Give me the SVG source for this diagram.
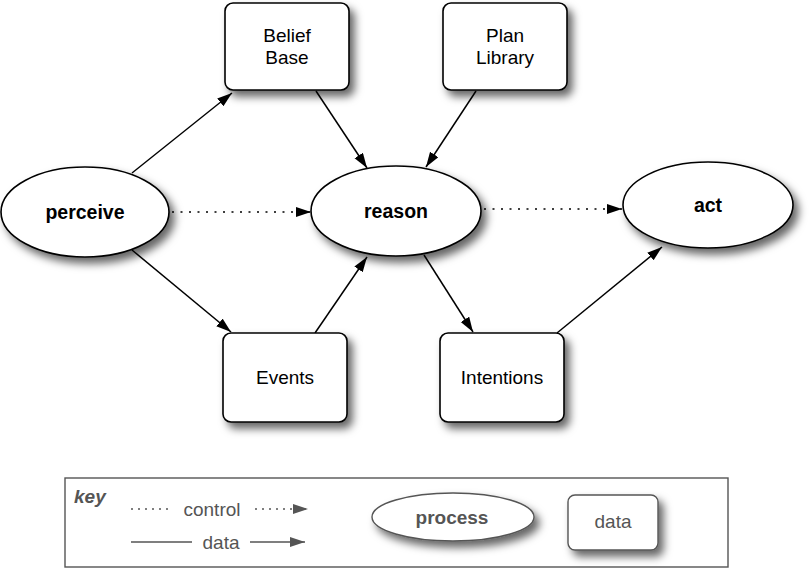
<svg xmlns="http://www.w3.org/2000/svg" width="809" height="569" viewBox="0 0 809 569">
<style>
.node{fill:#fff;stroke:#000;stroke-width:1.6}
.lbl{font-family:"Liberation Sans",Arial,sans-serif;font-size:19px;text-anchor:middle;fill:#000}
.b{font-weight:bold;font-size:19.5px}
.data{fill:none;stroke:#000;stroke-width:1.5;marker-end:url(#ah)}
.ctrl{fill:none;stroke:#000;stroke-width:1.5;stroke-dasharray:2 6.5;marker-end:url(#ah)}
.knode{fill:#fff;stroke:#555;stroke-width:1.4}
.ktxt{font-family:"Liberation Sans",Arial,sans-serif;font-size:19px;text-anchor:middle;fill:#555}
</style>
<defs>
<filter id="sh" x="-20%" y="-20%" width="150%" height="160%">
<feDropShadow dx="5" dy="6" stdDeviation="4" flood-color="#000" flood-opacity="0.6"/>
</filter>
<marker id="ah" markerUnits="userSpaceOnUse" markerWidth="16" markerHeight="12" refX="15" refY="5" orient="auto">
<path d="M0,0 L15,5 L0,10 z" fill="#000"/>
</marker>
<marker id="ahg" markerUnits="userSpaceOnUse" markerWidth="16" markerHeight="12" refX="15" refY="5" orient="auto">
<path d="M0,0 L15,5 L0,10 z" fill="#555"/>
</marker>
</defs>
<rect width="809" height="569" fill="#fff"/>

<g id="connectors">
<path class="data" d="M132,173 L232,93"/>
<path class="data" d="M316,91 L367,168"/>
<path class="data" d="M476,91 L426,167"/>
<path class="data" d="M132,250 L231,332"/>
<path class="data" d="M315,333 L367,257"/>
<path class="data" d="M424,255 L473,332"/>
<path class="data" d="M557,333 L662,247"/>
<path class="ctrl" d="M172,212 L311,212"/>
<path class="ctrl" d="M484,209 L622,209"/>
</g>

<g id="belief-base">
<rect class="node" x="225" y="3" width="124" height="87" rx="8" filter="url(#sh)"/>
<text class="lbl" x="287" y="42">Belief</text>
<text class="lbl" x="287" y="64">Base</text>
</g>
<g id="plan-library">
<rect class="node" x="443" y="3" width="124" height="87" rx="8" filter="url(#sh)"/>
<text class="lbl" x="505" y="42">Plan</text>
<text class="lbl" x="505" y="64">Library</text>
</g>
<g id="perceive">
<ellipse class="node" cx="85" cy="212" rx="84" ry="45" filter="url(#sh)"/>
<text class="lbl b" x="85" y="219">perceive</text>
</g>
<g id="reason">
<ellipse class="node" cx="396" cy="211" rx="85" ry="45" filter="url(#sh)"/>
<text class="lbl b" x="396" y="218">reason</text>
</g>
<g id="act">
<ellipse class="node" cx="708" cy="205" rx="85" ry="43" filter="url(#sh)"/>
<text class="lbl b" x="708" y="212">act</text>
</g>
<g id="events">
<rect class="node" x="223" y="333" width="124" height="89" rx="8" filter="url(#sh)"/>
<text class="lbl" x="285" y="384">Events</text>
</g>
<g id="intentions">
<rect class="node" x="440" y="333" width="124" height="89" rx="8" filter="url(#sh)"/>
<text class="lbl" x="502" y="384">Intentions</text>
</g>

<g id="key">
<rect x="65" y="478" width="663" height="89" fill="#fff" stroke="#555" stroke-width="1.4"/>
<text x="74" y="503" font-family="Liberation Sans,Arial,sans-serif" font-size="19" font-weight="bold" font-style="italic" fill="#555">key</text>
<path d="M131,509 L172,509" stroke="#555" stroke-width="1.4" stroke-dasharray="2 5"/>
<text class="ktxt" x="212" y="516">control</text>
<path d="M255,509 L308,509" stroke="#555" stroke-width="1.4" stroke-dasharray="2 5" marker-end="url(#ahg)"/>
<path d="M131,542 L192,542" stroke="#555" stroke-width="1.4"/>
<text class="ktxt" x="221" y="549">data</text>
<path d="M250,542 L305,542" stroke="#555" stroke-width="1.4" marker-end="url(#ahg)"/>
<g id="key-process">
<ellipse class="knode" cx="453" cy="517" rx="81" ry="24" filter="url(#sh)"/>
<text class="ktxt" x="452" y="524" font-weight="bold">process</text>
</g>
<g id="key-data">
<rect class="knode" x="568" y="495" width="90" height="55" rx="7" filter="url(#sh)"/>
<text class="ktxt" x="613" y="528">data</text>
</g>
</g>
</svg>
